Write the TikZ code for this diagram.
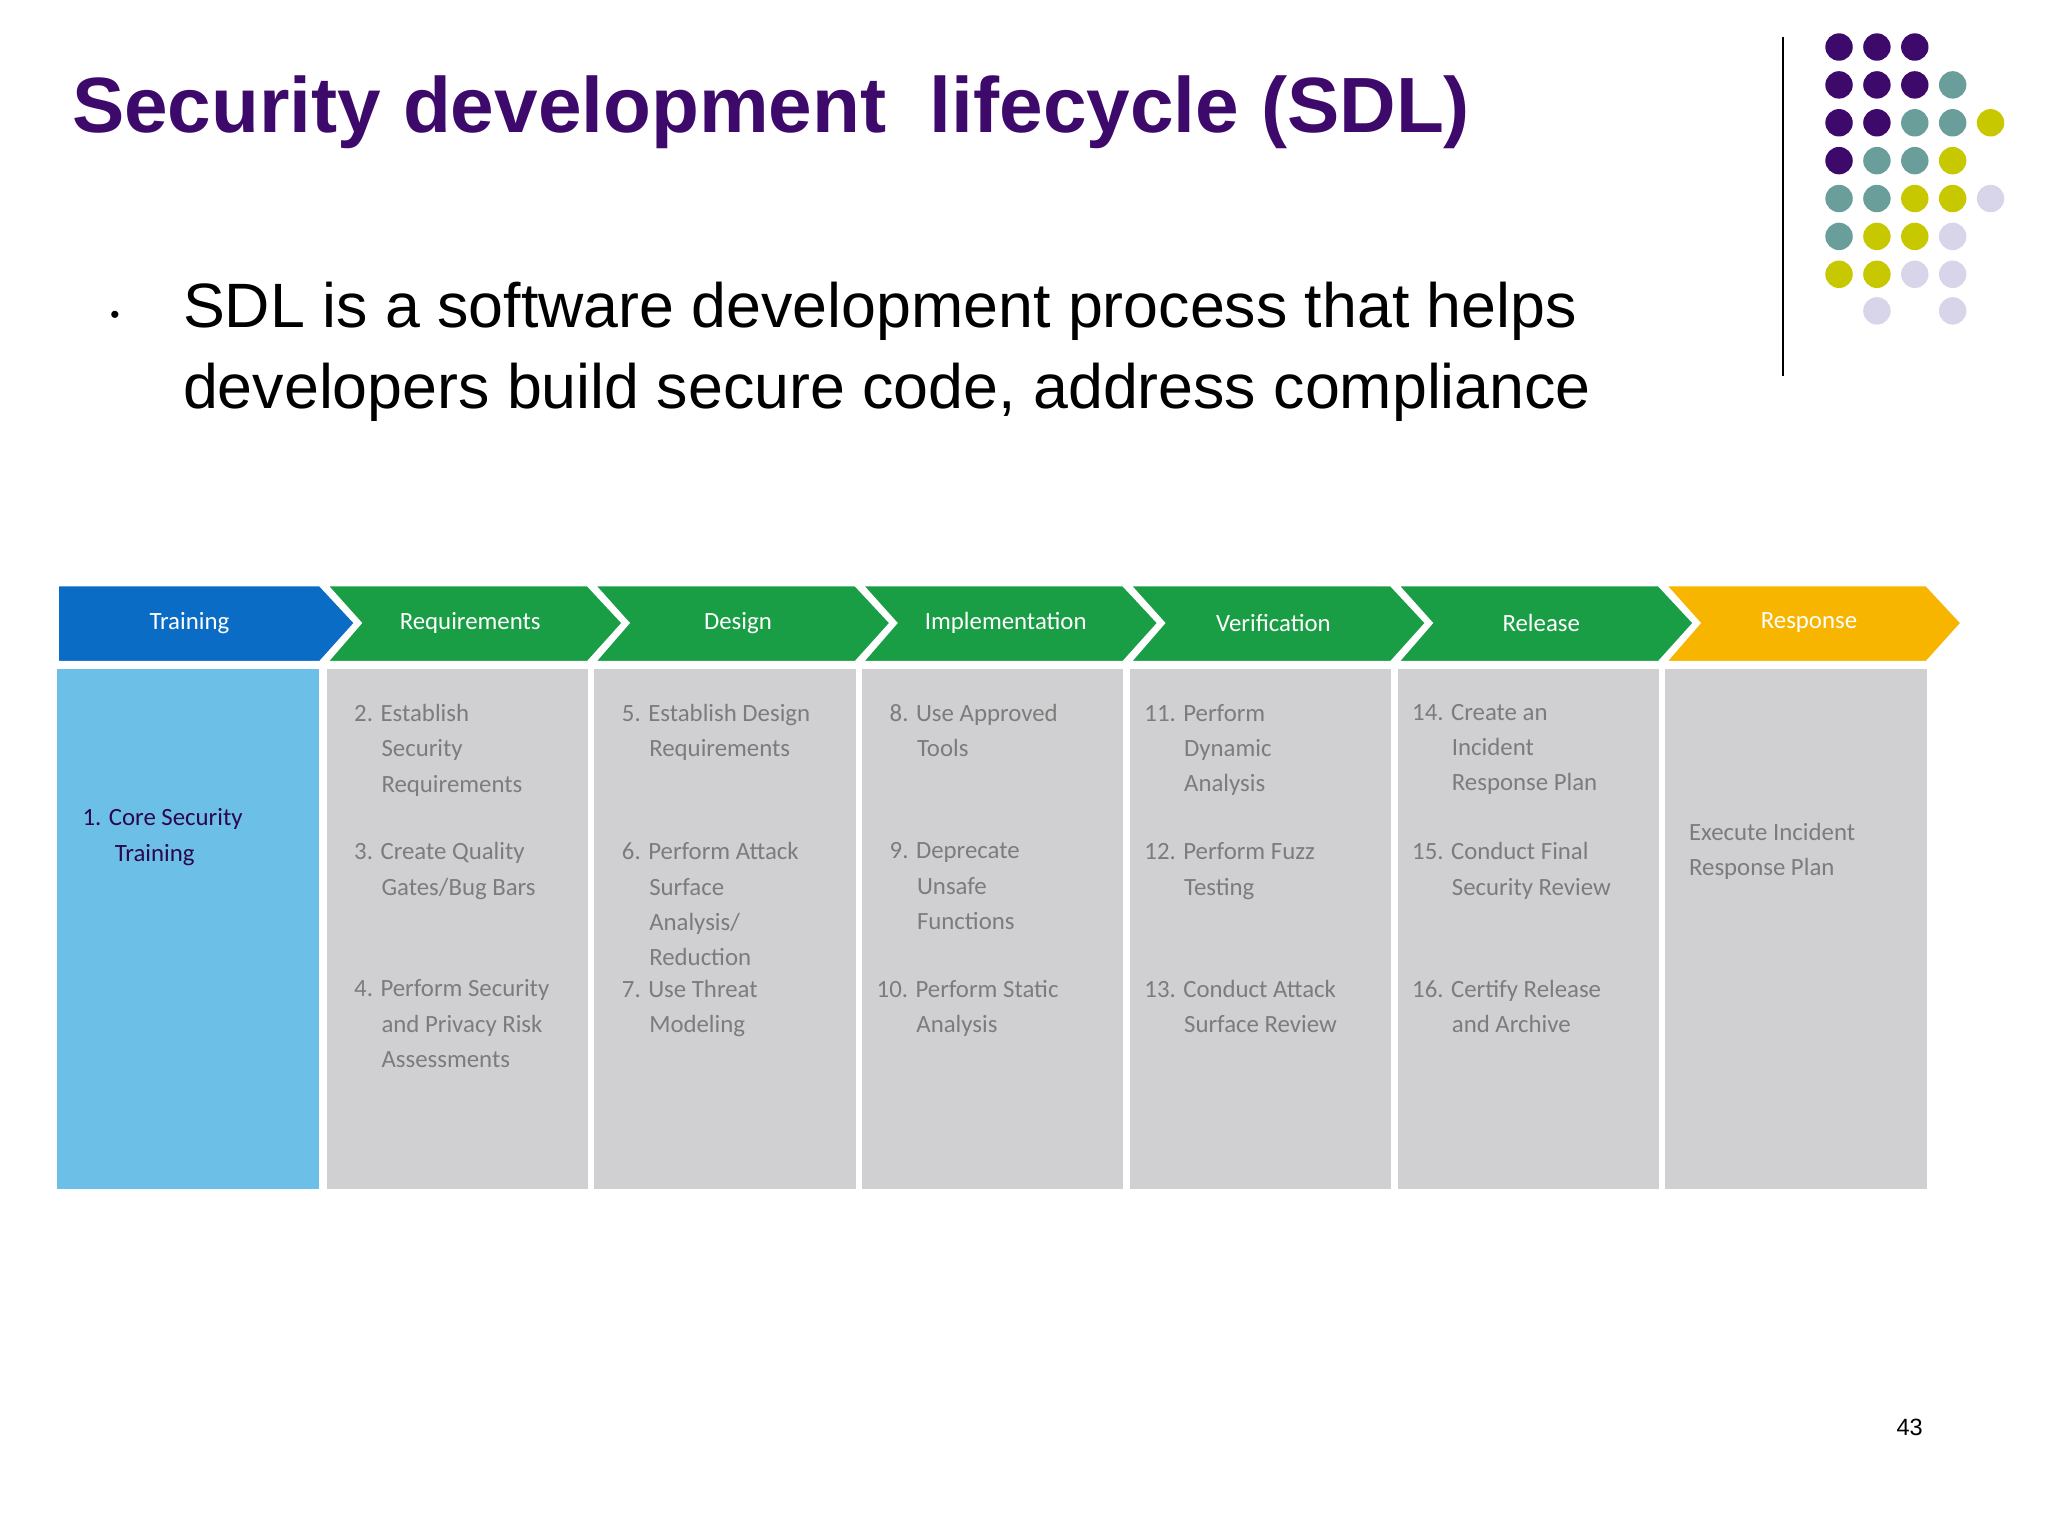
\documentclass[tikz,border=0pt]{standalone}
\usepackage{fontspec}
\setmainfont{Liberation Sans}
\newfontfamily\carfont{Carlito}
\definecolor{ttl}{HTML}{3D0A6B}
\definecolor{dP}{HTML}{3D0A6B}
\definecolor{dT}{HTML}{6A9E9A}
\definecolor{dY}{HTML}{C8C800}
\definecolor{dL}{HTML}{D8D4EA}
\definecolor{bblue}{HTML}{0A6CC4}
\definecolor{bgreen}{HTML}{1A9E45}
\definecolor{borange}{HTML}{F7B500}
\definecolor{lblue}{HTML}{6CC0E8}
\definecolor{cgray}{HTML}{D0D0D2}
\definecolor{tgray}{HTML}{7C7C7C}
\tikzset{
 hdr/.style={text=white,font=\carfont\fontsize{19}{22}\selectfont},
 cell/.style={anchor=north west,align=left,text=tgray,font=\carfont\fontsize{19}{27}\selectfont,inner sep=0pt},
}
\begin{document}
\begin{tikzpicture}[x=1pt,y=-1pt]
\useasboundingbox (0,0) rectangle (1568,1176);
\node[anchor=west,text=ttl,font=\bfseries\fontsize{60}{70}\selectfont,inner sep=0pt] (title) at (55,86) {Security development\ \ lifecycle (SDL)};
\node[anchor=west,font=\fontsize{48}{62}\selectfont,align=left,inner sep=0pt] (body) at (140,269) {SDL is a software development process that helps\\developers build secure code, address compliance};
\node[font=\fontsize{20}{20}\selectfont] (bul) at (88,243) {•};
\draw[line width=2pt] (1365,28) -- (1365,288);
\foreach \c/\x/\y in {P/1408/36,P/1437/36,P/1466/36,
 P/1408/65,P/1437/65,P/1466/65,T/1495/65,
 P/1408/94,P/1437/94,T/1466/94,T/1495/94,Y/1524/94,
 P/1408/123,T/1437/123,T/1466/123,Y/1495/123,
 T/1408/152,T/1437/152,Y/1466/152,Y/1495/152,L/1524/152,
 T/1408/181,Y/1437/181,Y/1466/181,L/1495/181,
 Y/1408/210,Y/1437/210,L/1466/210,L/1495/210,
 L/1437/238,L/1495/238}
 \fill[d\c] (\x,\y) circle (10.5);
% columns
\fill[lblue] (44,512) rectangle (244,910);
\foreach \x in {250,455,660,865,1070,1275}
 \fill[cgray] (\x,512) rectangle (\x+200,910);
% chevrons
\fill[bblue,draw=white,line width=2pt] (44,448) -- (245,448) -- (272,477) -- (245,507) -- (44,507) -- cycle;
\foreach \x/\cl in {250/bgreen,455/bgreen,660/bgreen,865/bgreen,1070/bgreen,1275/borange}
 \fill[\cl,draw=white,line width=2pt] (\x,448) -- (\x+200,448) -- (\x+227,477) -- (\x+200,507) -- (\x,507) -- (\x+26,477) -- cycle;
\node[hdr] (h1) at (145,477) {Training};
\node[hdr] (h2) at (360,477) {Requirements};
\node[hdr] (h3) at (565,477) {Design};
\node[hdr] (h4) at (770,477) {Implementation};
\node[hdr] (h5) at (975,477) {Verification};
\node[hdr] (h6) at (1180,477) {Release};
\node[hdr] (h7) at (1385,477) {Response};
\node[cell,text=ttl!70!black] (c1) at (63,619) {1. Core Security\\\hspace*{1.3em}Training};
\node[cell] (r2) at (271,539) {2. Establish\\\hspace*{1.1em}Security\\\hspace*{1.1em}Requirements};
\node[cell] (r3) at (271,645) {3. Create Quality\\\hspace*{1.1em}Gates/Bug Bars};
\node[cell] (r4) at (271,750) {4. Perform Security\\\hspace*{1.1em}and Privacy Risk\\\hspace*{1.1em}Assessments};
\node[cell] (d5) at (476,539) {5. Establish Design\\\hspace*{1.1em}Requirements};
\node[cell] (d6) at (476,645) {6. Perform Attack\\\hspace*{1.1em}Surface\\\hspace*{1.1em}Analysis/\\\hspace*{1.1em}Reduction};
\node[cell] (d7) at (476,750) {7. Use Threat\\\hspace*{1.1em}Modeling};
\node[cell] (i8) at (681,539) {8. Use Approved\\\hspace*{1.1em}Tools};
\node[cell] (i9) at (681,645) {9. Deprecate\\\hspace*{1.1em}Unsafe\\\hspace*{1.1em}Functions};
\node[cell] (i10) at (671,750) {10. Perform Static\\\hspace*{1.6em}Analysis};
\node[cell] (v11) at (876,539) {11. Perform\\\hspace*{1.6em}Dynamic\\\hspace*{1.6em}Analysis};
\node[cell] (v12) at (876,645) {12. Perform Fuzz\\\hspace*{1.6em}Testing};
\node[cell] (v13) at (876,750) {13. Conduct Attack\\\hspace*{1.6em}Surface Review};
\node[cell] (e14) at (1081,539) {14. Create an\\\hspace*{1.6em}Incident\\\hspace*{1.6em}Response Plan};
\node[cell] (e15) at (1081,645) {15. Conduct Final\\\hspace*{1.6em}Security Review};
\node[cell] (e16) at (1081,750) {16. Certify Release\\\hspace*{1.6em}and Archive};
\node[cell] (x) at (1293,630) {Execute Incident\\Response Plan};
\node[font=\fontsize{18}{18}\selectfont] (pg) at (1462,1093) {43};
\end{tikzpicture}
\end{document}
